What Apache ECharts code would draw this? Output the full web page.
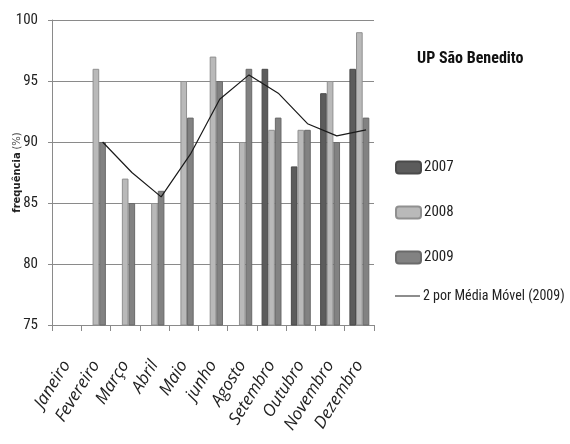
<!DOCTYPE html>
<html>
<head>
<meta charset="utf-8">
<script src="https://cdn.jsdelivr.net/npm/echarts@6/dist/echarts.min.js"></script>
<style>
  html, body { margin: 0; padding: 0; background: #fff; }
  #chart { width: 570px; height: 444px; }
</style>
</head>
<body>
<div id="chart"></div>
<script>
// Monthly frequency (%) at UP São Benedito, 2007–2009
const months = ['Janeiro', 'Fevereiro', 'Março', 'Abril', 'Maio', 'junho', 'Agosto', 'Setembro', 'Outubro', 'Novembro', 'Dezembro'];
const values2007 = [null, null, null, null, null, null, null, 96, 88, 94, 96];
const values2008 = [null, 96, 87, 85, 95, 97, 90, 91, 91, 95, 99];
const values2009 = [null, 90, 85, 86, 92, 95, 96, 92, 91, 90, 92];
// 2-period moving average of 2009
const movingAvg2009 = [null, 90, 87.5, 85.5, 89, 93.5, 95.5, 94, 91.5, 90.5, 91];
const yTicks = [75, 80, 85, 90, 95, 100];

const FONT = '"Roboto Condensed", "DejaVu Sans Condensed", sans-serif';
const ITALIC_FONT = '"Open Sans", Lato, sans-serif';
const LINE_NAME = '2 por Média Móvel (2009)';

const chart = echarts.init(document.getElementById('chart'), null, { renderer: 'canvas' });

const barStyle = (fill, border) => ({ color: fill, borderColor: border, borderWidth: 1 });

const legendText = { fontFamily: FONT, fontSize: 15, color: '#222', padding: [0, 0, 0, -2] };

chart.setOption({
  animation: false,
  backgroundColor: '#ffffff',
  textStyle: { fontFamily: FONT },
  title: {
    text: 'UP São Benedito',
    left: 417,
    top: 51,
    padding: 0,
    textStyle: { fontFamily: FONT, fontSize: 16, fontWeight: 'bold', color: '#111' }
  },
  legend: [
    {
      orient: 'vertical',
      left: 395,
      top: 160,
      padding: 0,
      itemWidth: 25,
      itemHeight: 12,
      itemGap: 30,
      textStyle: legendText,
      data: ['2007', '2008', '2009']
    },
    {
      orient: 'vertical',
      left: 395,
      top: 289,
      padding: 0,
      itemWidth: 25,
      itemHeight: 12,
      textStyle: Object.assign({}, legendText, { fontSize: 14 }),
      data: [{ name: LINE_NAME, icon: 'path://M0,0L25,0L25,1L0,1Z' }]
    }
  ],
  grid: [
    { left: 52, right: 196, top: 20, bottom: 119, outerBoundsMode: 'none', containLabel: false },
    // overlay grid shifted so the trend points sit over the 2009 bars
    { left: 58.7, right: 189.3, top: 20, bottom: 119, outerBoundsMode: 'none', containLabel: false }
  ],
  xAxis: [
    {
      type: 'category',
      gridIndex: 0,
      data: months,
      axisLine: { lineStyle: { color: '#8a8a8a', width: 1 } },
      axisTick: { show: true, length: 6, lineStyle: { color: '#8a8a8a' } },
      axisLabel: {
        interval: 0,
        rotate: 58,
        margin: 37,
        fontFamily: ITALIC_FONT,
        fontSize: 17,
        fontStyle: 'italic',
        color: '#222',
        formatter: v => '{i|' + v + '}',
        rich: {
          i: { fontFamily: ITALIC_FONT, fontSize: 17, fontStyle: 'italic', color: '#222' }
        }
      }
    },
    {
      type: 'category',
      gridIndex: 1,
      data: months,
      show: false
    }
  ],
  yAxis: [
    {
      type: 'value',
      gridIndex: 0,
      min: 75,
      max: 100,
      interval: 5,
      name: '{b|frequência} {n|(%)}',
      nameLocation: 'middle',
      nameGap: 29,
      nameRotate: 90,
      nameMoveOverlap: false,
      nameTextStyle: {
        rich: {
          b: { fontFamily: 'DejaVu Sans', fontSize: 10, fontWeight: 'bold', color: '#222' },
          n: { fontFamily: 'DejaVu Sans', fontSize: 10, color: '#444' }
        }
      },
      axisLine: { show: true, lineStyle: { color: '#8a8a8a', width: 1 } },
      axisTick: { show: true, length: 4, lineStyle: { color: '#8a8a8a' } },
      axisLabel: {
        margin: 14,
        fontFamily: FONT,
        fontSize: 15,
        color: '#222',
        formatter: v => (yTicks.includes(v) ? String(v) : '')
      },
      splitLine: { show: true, lineStyle: { color: '#8a8a8a', width: 1 } }
    },
    {
      type: 'value',
      gridIndex: 1,
      min: 75,
      max: 100,
      interval: 5,
      show: false,
      splitLine: { show: false }
    }
  ],
  series: [
    {
      name: '2007', type: 'bar', xAxisIndex: 0, yAxisIndex: 0,
      data: values2007, barGap: '0%', barCategoryGap: '32%',
      itemStyle: barStyle('#5c5c5c', '#4a4a4a')
    },
    {
      name: '2008', type: 'bar', xAxisIndex: 0, yAxisIndex: 0,
      data: values2008, barGap: '0%', barCategoryGap: '32%',
      itemStyle: barStyle('#b9b9b9', '#909090')
    },
    {
      name: '2009', type: 'bar', xAxisIndex: 0, yAxisIndex: 0,
      data: values2009, barGap: '0%', barCategoryGap: '32%',
      itemStyle: barStyle('#828282', '#6a6a6a')
    },
    {
      name: LINE_NAME, type: 'line', xAxisIndex: 1, yAxisIndex: 1,
      data: movingAvg2009,
      symbol: 'none',
      lineStyle: { color: '#1a1a1a', width: 1.2 },
      itemStyle: { color: '#1a1a1a' },
      z: 5
    }
  ]
});
</script>
</body>
</html>
